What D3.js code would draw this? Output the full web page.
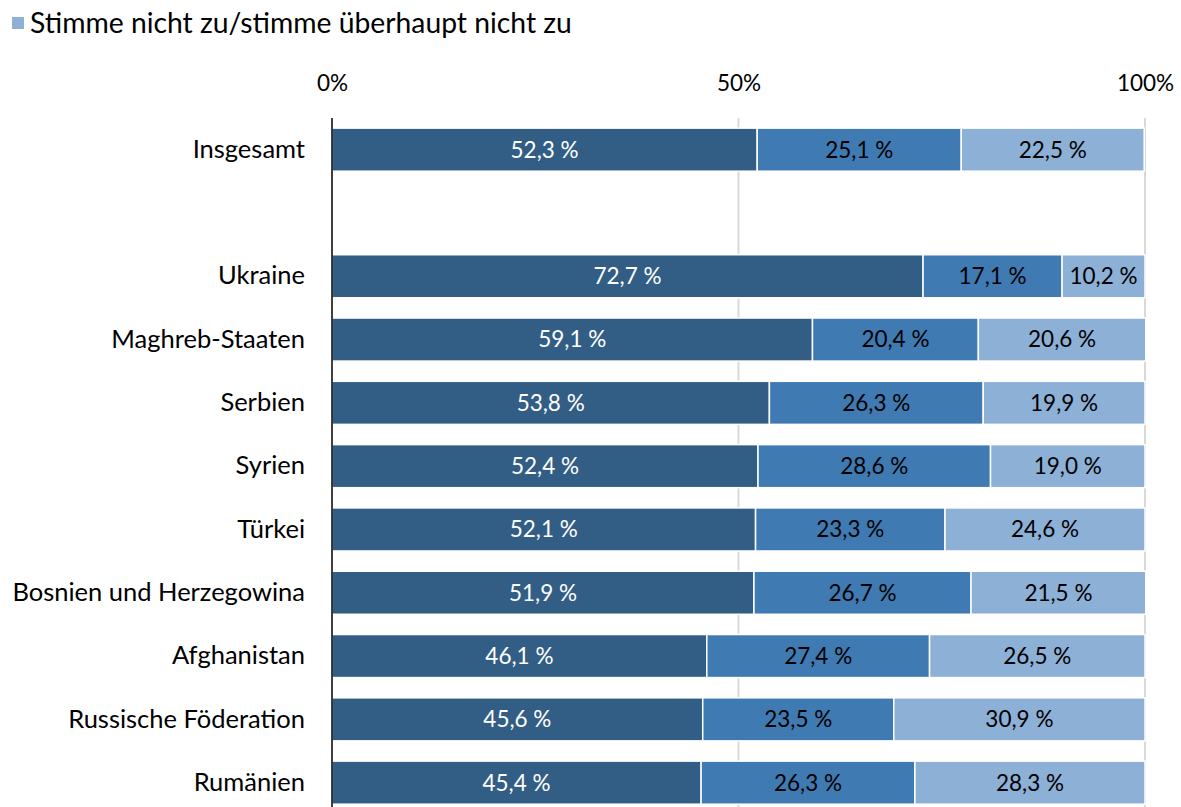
<!DOCTYPE html>
<html>
<head>
<meta charset="utf-8">
<script src="https://cdn.jsdelivr.net/npm/d3@7"></script>
<style>
  body { margin: 0; background: #fff; }
  svg text { font-family: Lato, "Open Sans", sans-serif; }
</style>
</head>
<body>
<div id="chart"></div>
<script>
// categories top to bottom, "" is the empty gap row
var categories = ["Insgesamt", "", "Ukraine", "Maghreb-Staaten", "Serbien", "Syrien", "Türkei",
  "Bosnien und Herzegowina", "Afghanistan", "Russische Föderation", "Rumänien"];

var zustimmung = [52.3, null, 72.7, 59.1, 53.8, 52.4, 52.1, 51.9, 46.1, 45.6, 45.4];
var teils = [25.1, null, 17.1, 20.4, 26.3, 28.6, 23.3, 26.7, 27.4, 23.5, 26.3];
var ablehnung = [22.5, null, 10.2, 20.6, 19.9, 19.0, 24.6, 21.5, 26.5, 30.9, 28.3];

var seriesNames = ["Stimme zu/stimme voll und ganz zu", "Teils/teils", "Stimme nicht zu/stimme überhaupt nicht zu"];
var seriesColors = ["#325e86", "#3f7ab2", "#8cb0d6"];
var labelColors = ["#ffffff", "#000000", "#000000"];
var legendShown = [2];

var xTicks = [0, 50, 100];

var W = 1181, H = 807;
var svg = d3.select("#chart").append("svg").attr("width", W).attr("height", H);

var x = d3.scaleLinear().domain([0, 100]).range([332, 1145]);
var y = d3.scaleBand().domain(d3.range(categories.length))
  .range([118, 118 + 63.3 * categories.length]).paddingInner(0.32).paddingOuter(0.16);

// gridlines
svg.append("g").selectAll("line").data(xTicks.slice(1)).enter().append("line")
  .attr("x1", function(d) { return x(d); }).attr("x2", function(d) { return x(d); })
  .attr("y1", 118).attr("y2", H)
  .attr("stroke", "#d9d9d9").attr("stroke-width", 2);

// top axis labels
var xAxis = svg.append("g").attr("transform", "translate(0,91)")
  .call(d3.axisTop(x).tickValues(xTicks).tickSize(0).tickPadding(0)
    .tickFormat(function(d) { return d + "%"; }));
xAxis.select(".domain").remove();
xAxis.selectAll("text").attr("font-size", 22.5).attr("fill", "#000")
  .style("font-family", "Lato, sans-serif");

// stacked data
var rows = categories.map(function(c, i) {
  return { i: i, vals: [zustimmung[i], teils[i], ablehnung[i]] };
}).filter(function(r) { return r.vals[0] != null; });

var segs = [];
rows.forEach(function(r) {
  var start = 0;
  r.vals.forEach(function(v, k) {
    segs.push({ i: r.i, k: k, x0: start, x1: start + v, v: v });
    start += v;
  });
});

var bars = svg.append("g");
bars.selectAll("rect").data(segs).enter().append("rect")
  .attr("x", function(d) { return x(d.x0); })
  .attr("width", function(d) { return x(d.x1) - x(d.x0); })
  .attr("y", function(d) { return y(d.i); })
  .attr("height", y.bandwidth())
  .attr("fill", function(d) { return seriesColors[d.k]; })
  .attr("stroke", "#fff").attr("stroke-width", 1.5);

bars.selectAll("text").data(segs).enter().append("text")
  .attr("x", function(d) { return (x(d.x0) + x(d.x1)) / 2; })
  .attr("y", function(d) { return y(d.i) + y.bandwidth() / 2; })
  .attr("dy", "0.35em")
  .attr("text-anchor", "middle")
  .attr("font-size", 22.5)
  .attr("fill", function(d) { return labelColors[d.k]; })
  .text(function(d) { return d.v.toFixed(1).replace(".", ",") + " %"; });

// category axis
var yAxis = svg.append("g").attr("transform", "translate(332,0)")
  .call(d3.axisLeft(y).tickSize(0).tickPadding(27).tickFormat(function(i) { return categories[i]; }));
yAxis.select(".domain").remove();
yAxis.selectAll("text").attr("font-size", 25.5).attr("fill", "#000")
  .style("font-family", "Lato, sans-serif");

svg.append("line").attr("x1", 332).attr("x2", 332).attr("y1", 118).attr("y2", H)
  .attr("stroke", "#000").attr("stroke-width", 1.5);

// legend
var leg = svg.append("g").selectAll("g").data(legendShown).enter().append("g");
leg.append("rect").attr("x", 12).attr("y", 17).attr("width", 12).attr("height", 12)
  .attr("fill", function(k) { return seriesColors[k]; });
leg.append("text").attr("x", 30).attr("y", 23).attr("dy", "0.35em")
  .attr("font-size", 28.3).attr("fill", "#000")
  .text(function(k) { return seriesNames[k]; });
</script>
</body>
</html>
